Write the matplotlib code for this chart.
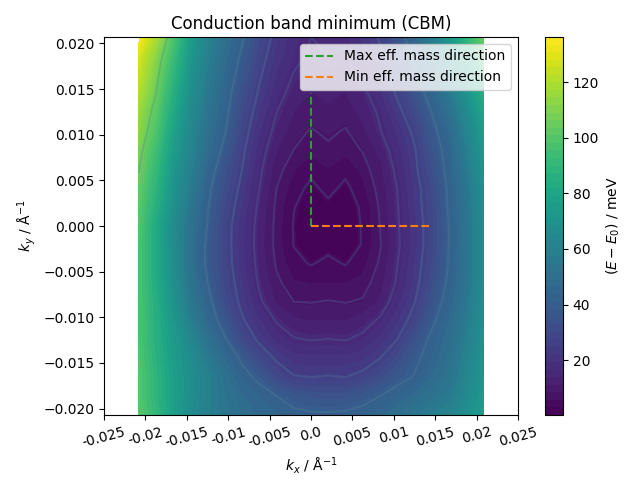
import matplotlib
matplotlib.use("Agg")
import matplotlib.pyplot as plt
import numpy as np

# energies in meV, one list per kx column, top of plot first
energy_cols = [
    [136,128,124,120,115,112,108,105.5,103,101,99,98,98,98,98,98,98,99,100,100,101],
    [119,112,108,105,101,98,94,91,88,85,82,82,82,83,84.5,85.6,85.6,87,88,88,90.5],
    [98,93,89,85,81.5,78,75,72,70,68,66,66,67,68,69.5,71.7,74,75,76.3,76.3,76.3],
    [75,72,70,67.5,65,63,61,58.5,56,53.5,51,51,51,52,54.5,58,62.5,66,67,67,66],
    [61,58.5,56.5,54.5,52.5,50.5,48,45,42,40.5,39.5,38,38,40,42.8,45.5,51,55.6,59,58.5,58],
    [50,48,46,44,42.5,40.5,37.5,34,32,29.5,28,28,28.2,29.3,31.4,35.7,41,46.5,50.5,52,53],
    [41,38.5,36,33,30.5,28.5,26.5,25,23,21.5,20.3,20,20.5,21.7,23,26,30.5,38.5,43,47,49],
    [30.3,28,26,24,21.7,19.5,17.5,16.2,15,13.7,12.9,12.7,13.2,14.2,16,19.5,23.5,30,38,43.5,46],
    [22.5,21,19,17.3,15,13.2,11.3,9.3,8,7.2,6.9,6.8,7.5,8.8,10.5,14.5,18.3,24,30,40,44],
    [17.5,16.5,14.7,12.8,11,9.5,7.9,5.9,4.4,3.4,3.1,3.2,4.1,6,8,11.8,15.4,20.5,25.5,36.5,42],
    [15,14.2,12.7,11,9.6,7.6,6.4,4,2.6,2,1.4,1.7,3.1,5.6,7.8,11,14.7,20,25,35,41],
    [16,15,13.5,11.9,10.3,8.8,7.2,5.6,4.1,2.6,1,2.3,4.1,5.6,8.2,11.3,15.1,20,25.5,34.1,41],
    [16,14.2,13.5,11,9.6,7.6,6.4,4,2.6,2,1.7,1.7,3.1,5.6,7.8,11,14.7,20,25,34.6,41.5],
    [20,18.3,16.7,13.5,11.9,10.3,8.2,6.4,4.9,3.7,3.5,3.5,4.9,6.4,8.4,12.7,16.3,21.2,27,37,42.8],
    [26,23.3,21.7,18.3,15.8,14.6,11.9,10.3,9.2,8.4,8,7.6,8.5,9.8,11.5,15.8,20,25,31.4,40,45.5],
    [35.7,31.4,28.2,26,22.5,19.8,17.9,16.2,15,14.5,14.2,13.9,14.8,15.6,18,21.2,25,31,37,43.7,49],
    [45.5,41.8,37.9,34.6,30.3,26.5,24.2,23.3,22,21.7,20.8,20.8,21.7,22.5,24.6,27.7,33.6,37.9,40.5,47.4,53],
    [58,52,47.4,43.7,40,36.8,34.6,32.5,30.4,29.3,28.8,28.8,29.8,31.4,34.6,37.9,41.8,43.7,46.4,51,58],
    [73,66,60,54.5,50,46.4,43.7,42.8,41.4,40.9,40,40,40.5,41.8,43.7,46.4,48.3,50,52,55.6,60],
    [89,81,74,69,64,60,57,55,53,52.5,52,52,52,52.5,53.5,55.5,57.5,60,62,64.5,68],
    [105,97,90,84,79,75,72,70,68,67,66,66,66,66,67,68,69,70,71,73,75],
]
line_levels = [3.3, 8, 15, 25, 40, 105]
line_colors = ["#46286f", "#4a3078", "#483f82", "#46528c", "#3f6a90", "#5cba6a"]
kx = np.arange(-10, 11) * 0.00208
ky = np.arange(10, -11, -1) * 0.00207
max_dir_kx = [0.0, 0.0]
max_dir_ky = [0.0, 0.0146]
min_dir_kx = [0.0, 0.0143]
min_dir_ky = [0.0, 0.0]
xtick_vals = [-0.025, -0.02, -0.015, -0.01, -0.005, 0.0, 0.005, 0.01, 0.015, 0.02, 0.025]

energy = np.array(energy_cols).T

fig = plt.figure(figsize=(6.4, 4.8), dpi=100)
ax = fig.add_axes([104/640, 65/480, 414/640, 378/480])
cax = fig.add_axes([545/640, 65/480, 18/640, 378/480])

cf = ax.contourf(kx, ky, energy, levels=np.linspace(0.3, 136.2, 51), cmap="viridis")
ax.contour(kx, ky, energy, levels=line_levels, colors=line_colors, linewidths=1.5)
ax.plot(max_dir_kx, max_dir_ky, "--", color="C2", label="Max eff. mass direction")
ax.plot(min_dir_kx, min_dir_ky, "--", color="C1", label="Min eff. mass direction")

ax.set_xlim(-0.025, 0.025)
ax.set_ylim(-0.0207, 0.0207)
ax.set_xticks(xtick_vals)
ax.set_xticklabels([str(v) for v in xtick_vals], rotation=15)
ax.set_xlabel(r"$k_x$ / Å$^{-1}$")
ax.set_ylabel(r"$k_y$ / Å$^{-1}$")
ax.set_title("Conduction band minimum (CBM)")
ax.legend(loc="upper right")

cb = fig.colorbar(cf, cax=cax)
cb.set_ticks([20, 40, 60, 80, 100, 120])
cb.set_label(r"$(E-E_0)$ / meV")

fig.savefig("out.png", dpi=100)
